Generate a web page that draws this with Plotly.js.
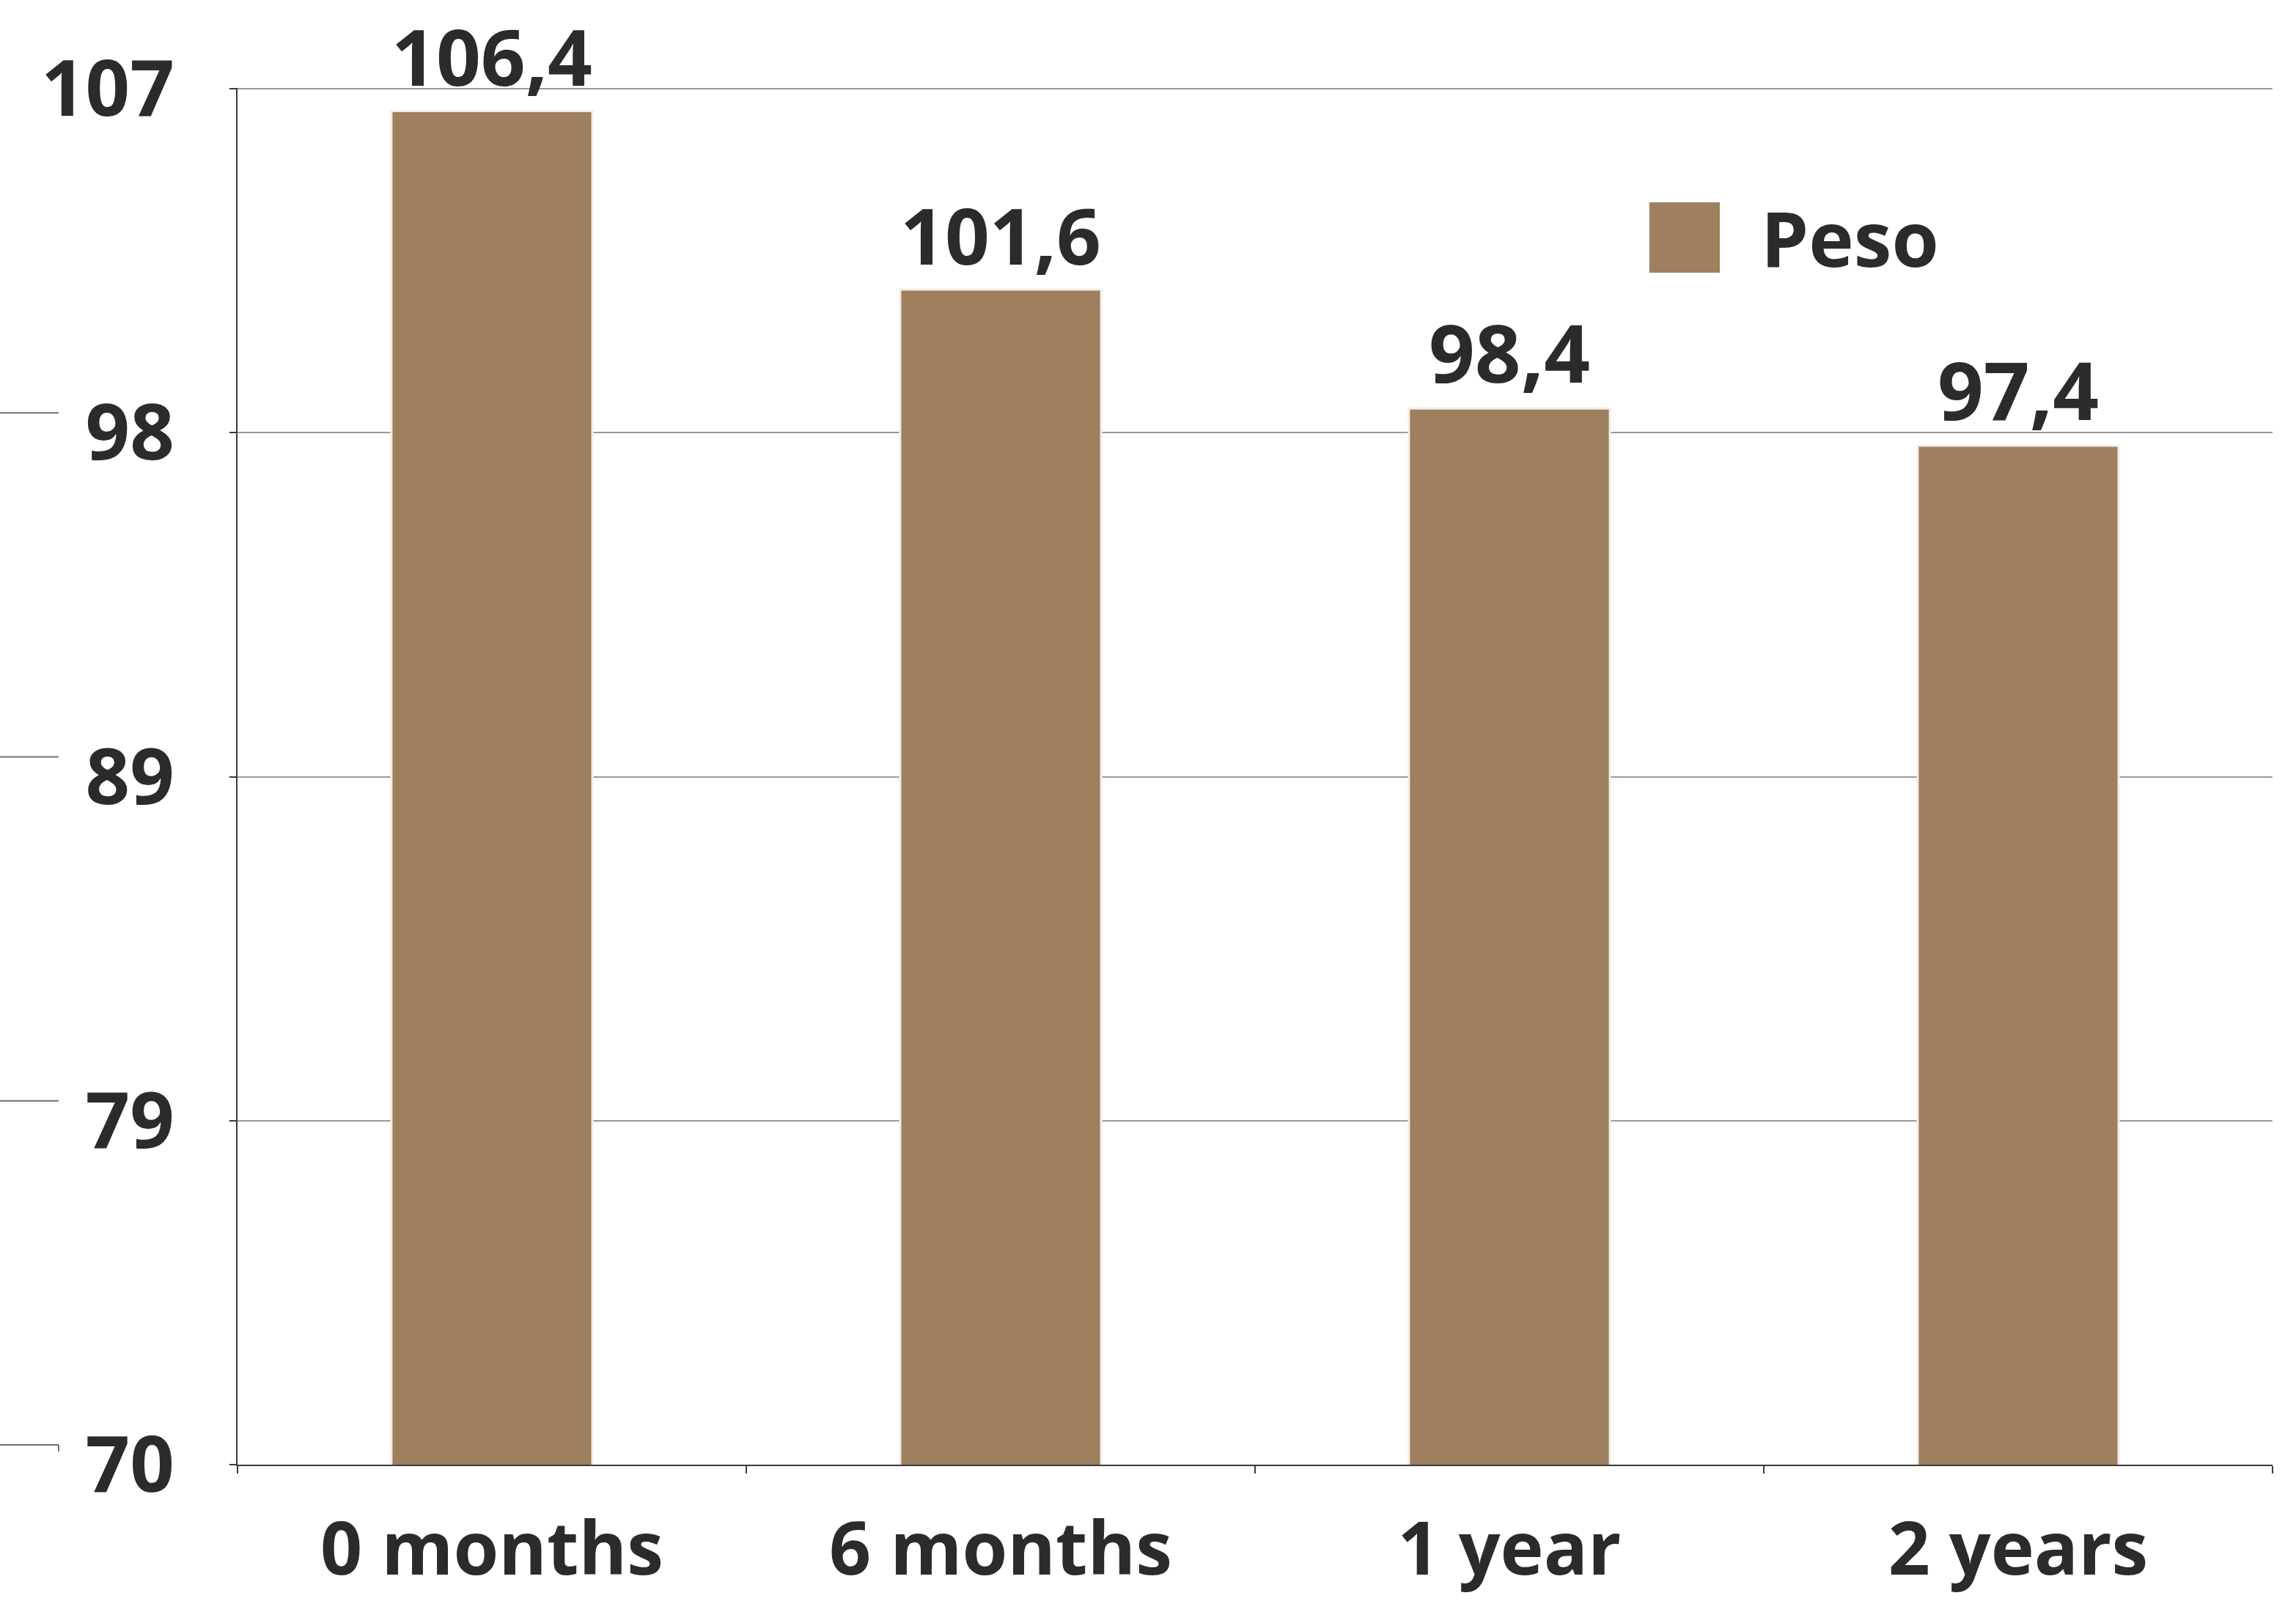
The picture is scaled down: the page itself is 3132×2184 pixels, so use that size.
<!DOCTYPE html>
<html>
<head>
<meta charset="utf-8">
<script src="https://cdn.plot.ly/plotly-3.0.1.min.js"></script>
<style>
  html, body { margin: 0; padding: 0; background: #ffffff; }
  #chart { width: 3132px; height: 2184px; }
</style>
</head>
<body>
<div id="chart"></div>
<script>
// ---- data ----
const categories = ["0 months", "6 months", "1 year", "2 years"];
const pesoValues = [106.4, 101.6, 98.4, 97.4];
const seriesName = "Peso";
const yTickVals = [70, 79.25, 88.5, 97.75, 107];
const yTickText = ["70", "79", "89", "98", "107"];
const yRange = [70, 107];

// ---- style ----
const barColor = "#9E7F5E";
const textColor = "#2B2B2B";
const fontFamily = "'Open Sans', 'Noto Sans', sans-serif";

const trace = {
  type: "bar",
  name: seriesName,
  x: categories,
  y: pesoValues,
  width: 0.395,
  marker: { color: barColor, line: { color: "#F3EDE6", width: 3 } },
  texttemplate: "%{y:.1f}",
  textposition: "outside",
  cliponaxis: false,
  textfont: { family: fontFamily, size: 110, color: textColor, weight: 700 },
  showlegend: false,
  hoverinfo: "x+y"
};

const shapes = [];
// decorative left fragments (offset lines seen left of tick labels)
yTickVals.forEach(v => {
  shapes.push({
    type: "line", xref: "paper", yref: "y",
    ysizemode: "pixel", yanchor: v,
    x0: -0.1167, x1: -0.0879, y0: 27, y1: 27,
    line: { color: "#6E6E6E", width: 2 }
  });
});
shapes.push({
  type: "line", xref: "paper", yref: "y",
  ysizemode: "pixel", yanchor: yRange[0],
  x0: -0.0879, x1: -0.0879, y0: 27, y1: 18,
  line: { color: "#6E6E6E", width: 2 }
});
// manual legend swatch
shapes.push({
  type: "rect", xref: "paper", yref: "paper",
  x0: 0.6938, x1: 0.7284, y0: 0.8658, y1: 0.9169,
  fillcolor: barColor, line: { width: 0 }
});

const layout = {
  width: 3132,
  height: 2184,
  margin: { l: 324, r: 32, t: 120, b: 186, pad: 0 },
  paper_bgcolor: "#ffffff",
  plot_bgcolor: "#ffffff",
  separators: ",.",
  font: { family: fontFamily, color: textColor },
  showlegend: false,
  xaxis: {
    type: "category",
    showline: true, linecolor: "#3A3A3A", linewidth: 2,
    ticks: "outside", tickson: "boundaries", ticklen: 10, tickcolor: "#3A3A3A", tickwidth: 2,
    showgrid: false,
    tickfont: { family: fontFamily, size: 100, color: textColor, weight: 700 },
    ticklabelstandoff: 28,
    fixedrange: true
  },
  yaxis: {
    range: [yRange[0], yRange[1] + 0.02],
    tickvals: yTickVals,
    ticktext: yTickText,
    showline: true, linecolor: "#3A3A3A", linewidth: 2,
    ticks: "outside", ticklen: 9, tickcolor: "#3A3A3A", tickwidth: 2,
    showgrid: true, gridcolor: "#9A9A9A", gridwidth: 2,
    zeroline: false,
    tickfont: { family: fontFamily, size: 106, color: textColor, weight: 700 },
    ticklabelstandoff: 54,
    fixedrange: true
  },
  shapes: shapes,
  annotations: [{
    xref: "paper", yref: "paper",
    x: 0.7478, y: 0.8914, xanchor: "left", yanchor: "middle",
    text: seriesName, showarrow: false,
    font: { family: fontFamily, size: 104, color: textColor, weight: 700 }
  }]
};

Plotly.newPlot("chart", [trace], layout, { staticPlot: true, displayModeBar: false });
</script>
</body>
</html>
